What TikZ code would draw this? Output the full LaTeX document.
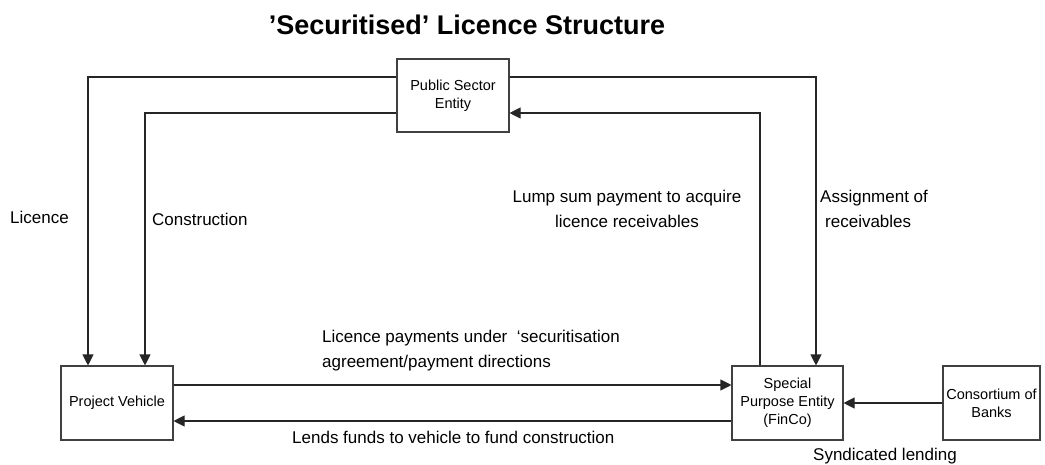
\documentclass[tikz,border=0pt]{standalone}
\usepackage{fontspec}
\setmainfont{Liberation Sans}
\usetikzlibrary{arrows.meta}
\tikzset{
  boxnode/.style={draw=black!75, line width=1.1pt, fill=white, align=center, inner sep=2pt,
    font=\fontsize{14.5}{18}\selectfont},
  arr/.style={draw=black!85, line width=1.1pt, -{Triangle[length=11pt,width=11pt]}},
  lbl/.style={font=\fontsize{17}{25}\selectfont, inner sep=0pt}
}
\begin{document}
\begin{tikzpicture}[x=1pt,y=-1pt]
\useasboundingbox (0,0) rectangle (1045,464);
\node[font=\fontsize{27}{30}\selectfont\bfseries, inner sep=0pt] (title) at (467,25) {’Securitised’ Licence Structure};
\node[boxnode, minimum width=112pt, minimum height=73pt] (pse) at (453,95.5) {Public Sector\\Entity};
\node[boxnode, minimum width=112pt, minimum height=74pt] (pv) at (117,403) {Project Vehicle};
\node[boxnode, minimum width=111pt, minimum height=74pt] (spe) at (787.5,403) {Special\\Purpose Entity\\(FinCo)};
\node[boxnode, minimum width=97pt, minimum height=74pt] (cb) at (991.5,403) {Consortium of\\Banks};

\draw[arr] ([yshift=18.5pt]pse.west) -| ([xshift=-29pt]pv.north);
\draw[arr] ([yshift=-17.5pt]pse.west) -| ([xshift=28pt]pv.north);
\draw[arr] ([yshift=18.5pt]pse.east) -| ([xshift=28.5pt]spe.north);
\draw[arr] ([xshift=-27.5pt]spe.north) |- ([yshift=-17.5pt]pse.east);
\draw[arr] ([yshift=18pt]pv.east) -- ([yshift=18pt]spe.west);
\draw[arr] ([yshift=-18pt]spe.west) -- ([yshift=-18pt]pv.east);
\draw[arr] (cb.west) -- (spe.east);

\node[lbl, anchor=west] (l1) at (10,217) {Licence};
\node[lbl, anchor=west] (l2) at (152,219) {Construction};
\node[lbl, align=center] (l3) at (627,208.5) {Lump sum payment to acquire\\licence receivables};
\node[lbl, align=left, anchor=west] (l4) at (820,208.5) {Assignment of\\\hspace{5pt}receivables};
\node[lbl, align=left, anchor=west] (l5) at (322,351) {Licence payments under \ ‘securitisation\\agreement/payment directions};
\node[lbl, anchor=west] (l6) at (292,437) {Lends funds to vehicle to fund construction};
\node[lbl] (l7) at (885,456) {Syndicated lending};
\end{tikzpicture}
\end{document}
